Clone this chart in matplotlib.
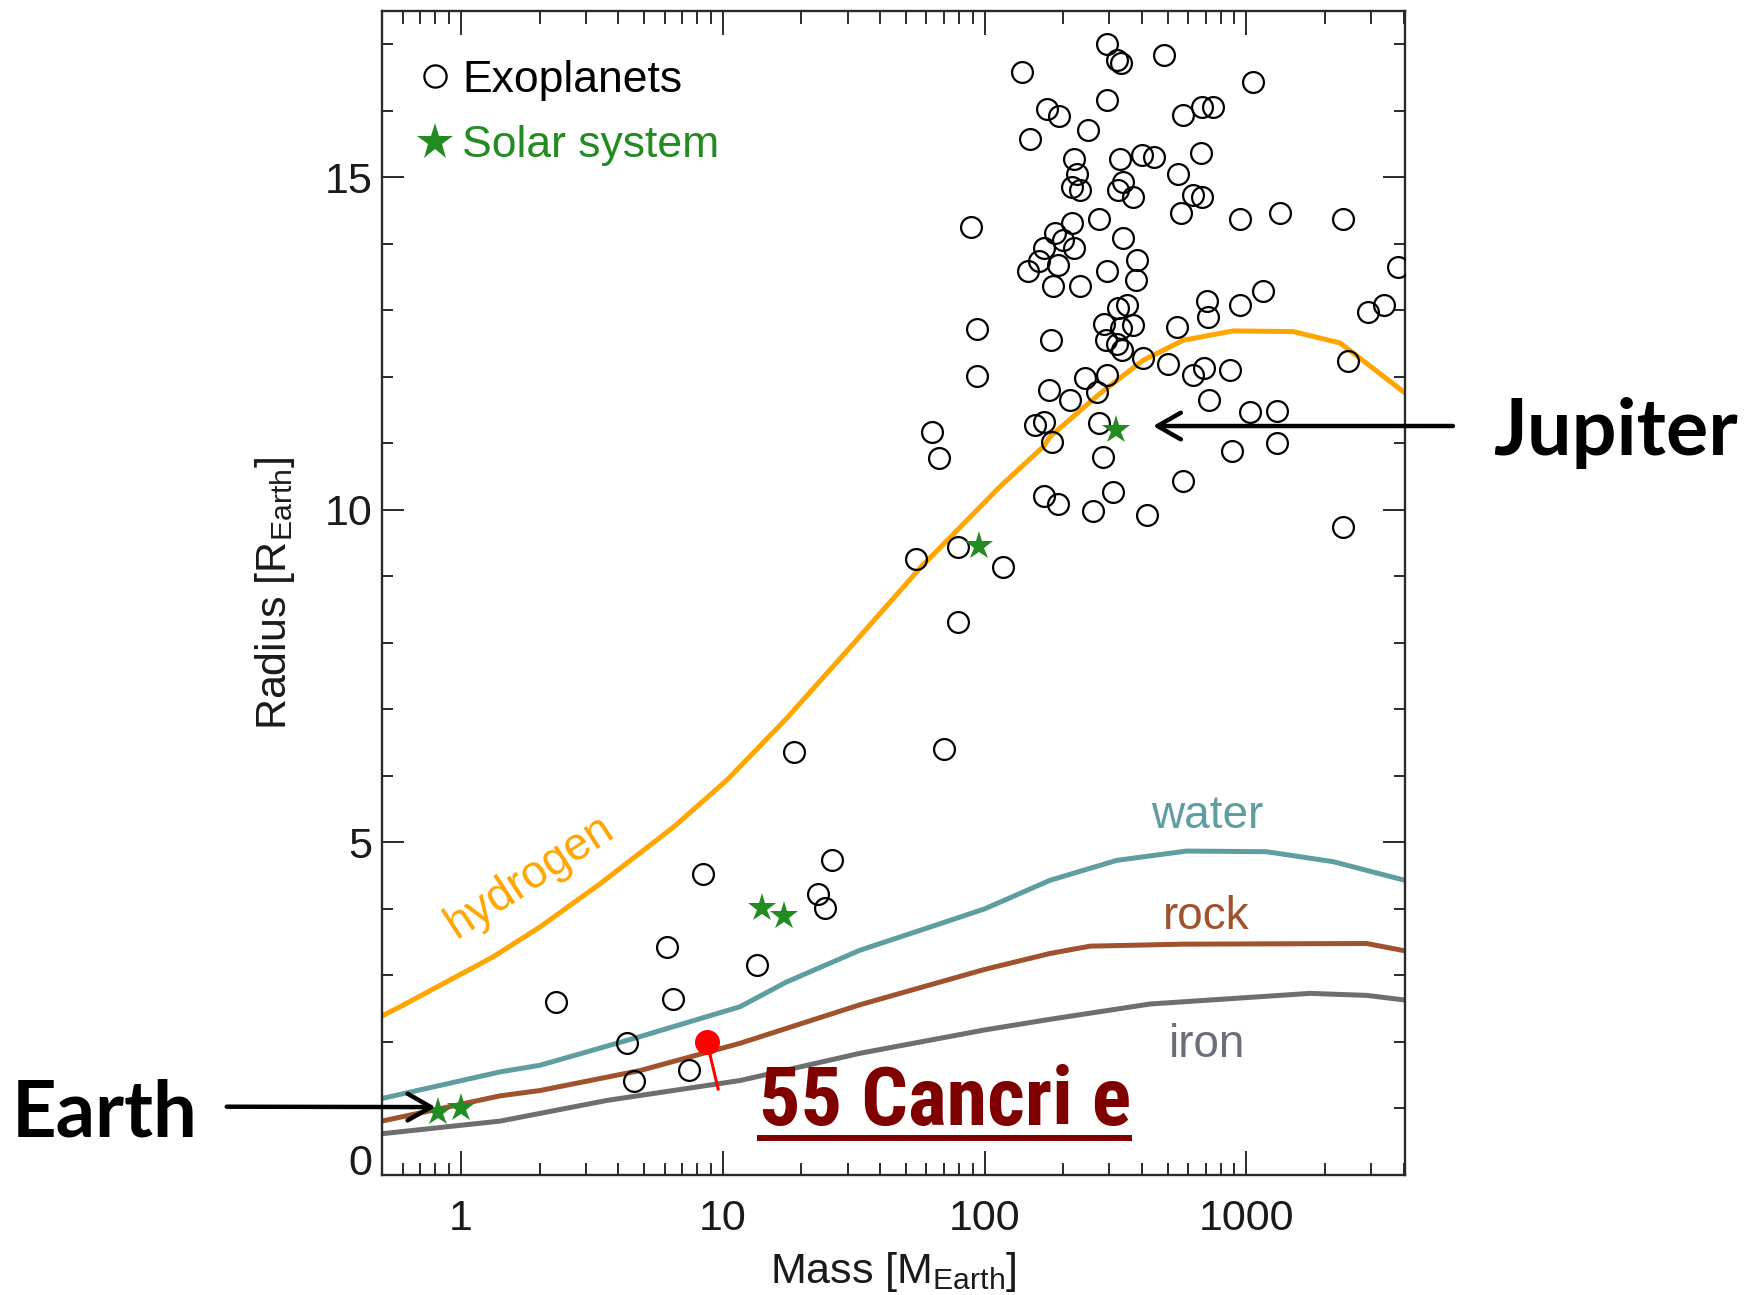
import matplotlib
matplotlib.use("Agg")
import matplotlib.pyplot as plt
from matplotlib import font_manager
from matplotlib.lines import Line2D
from matplotlib.transforms import IdentityTransform
from matplotlib.ticker import LogLocator, MultipleLocator, NullFormatter

# ---------------------------------------------------------------- data
# Known exoplanets: mass [Earth masses], radius [Earth radii]
exo_mass = [139, 294, 321, 331, 486, 1062, 173, 193, 294, 574, 675, 747,
            249, 149, 220, 226, 215, 232, 329, 398, 444, 669, 549, 337,
            324, 370, 626, 675, 562, 945, 1342, 274, 215, 186, 200, 168,
            220, 339, 161, 147, 190, 294, 383, 379, 183, 231, 1156, 705,
            715, 945, 179, 324, 351, 286, 331, 370, 542, 291, 321, 334,
            404, 503, 623, 688, 865, 242, 293, 268, 177, 212, 721, 1031,
            1304, 156, 168, 181, 274, 283, 878, 1304, 571, 169, 191, 309,
            259, 416, 2342, 3796, 2917, 3348, 2446, 2329, 89.1, 93.6, 93.6,
            63.0, 67.0, 54.8, 79.2, 117.7, 79.2, 70.0, 18.75, 8.43, 26.1,
            23.2, 24.6, 6.12, 13.58, 2.31, 6.49, 4.33, 4.59, 7.45]
exo_radius = [16.59, 17.00, 16.77, 16.72, 16.84, 16.44, 16.02, 15.92, 16.16,
              15.94, 16.06, 16.05, 15.71, 15.58, 15.27, 15.05, 14.85, 14.81,
              15.27, 15.33, 15.30, 15.36, 15.05, 14.93, 14.81, 14.70, 14.73,
              14.71, 14.47, 14.37, 14.47, 14.38, 14.31, 14.16, 14.06, 13.93,
              13.93, 14.08, 13.74, 13.59, 13.68, 13.59, 13.75, 13.45, 13.36,
              13.36, 13.29, 13.14, 12.90, 13.08, 12.56, 13.03, 13.08, 12.80,
              12.73, 12.78, 12.75, 12.55, 12.50, 12.40, 12.28, 12.20, 12.03,
              12.13, 12.11, 11.98, 12.03, 11.77, 11.80, 11.65, 11.65, 11.47,
              11.49, 11.27, 11.32, 11.02, 11.31, 10.80, 10.89, 11.01, 10.44,
              10.21, 10.09, 10.27, 9.98, 9.92, 14.38, 13.65, 12.98, 13.08,
              12.24, 9.74, 14.25, 12.72, 12.01, 11.17, 10.78, 9.26, 9.44,
              9.14, 8.31, 6.40, 6.36, 4.52, 4.73, 4.23, 4.01, 3.43, 3.15,
              2.60, 2.65, 1.98, 1.41, 1.58]

# Solar-system planets: Venus, Earth, Uranus, Neptune, Saturn, Jupiter
sol_mass = [0.815, 1.0, 14.1, 17.2, 95.2, 318]
sol_radius = [0.95, 1.0, 4.02, 3.90, 9.45, 11.2]

# Mass-radius relations for pure compositions
hyd_mass = [0.5, 0.587, 1.33, 2.01, 3.41, 6.49, 10.4, 17.5, 31.6, 57.2,
            100.5, 114.6, 168.7, 177.8, 276, 404, 574, 890, 1509, 2275, 4027]
hyd_radius = [2.39, 2.53, 3.28, 3.73, 4.38, 5.23, 5.94, 6.86, 7.99, 9.14,
              10.12, 10.35, 10.96, 11.10, 11.75, 12.25, 12.55, 12.69, 12.68,
              12.51, 11.76]

wat_mass = [0.5, 1.415, 2.01, 4.84, 11.66, 17.5, 33.5, 57, 100, 177.8,
            319.6, 591, 1194, 2145, 4027]
wat_radius = [1.15, 1.55, 1.65, 2.08, 2.53, 2.90, 3.38, 3.68, 4.00, 4.43,
              4.73, 4.87, 4.86, 4.71, 4.43]

rock_mass = [0.5, 1.415, 2.01, 4.84, 11.66, 33.5, 100, 177.8, 252.7, 574,
             2876, 4027]
rock_radius = [0.81, 1.19, 1.27, 1.57, 1.98, 2.56, 3.09, 3.33, 3.44, 3.47,
               3.48, 3.37]

iron_mass = [0.5, 1.415, 3.61, 11.66, 33.5, 100, 177.8, 428, 1747, 2876,
             4027]
iron_radius = [0.62, 0.81, 1.12, 1.42, 1.83, 2.18, 2.34, 2.57, 2.73, 2.70,
               2.63]

# 55 Cancri e: measured point and the lower end of its pin
cnc_mass = [8.71, 9.64]
cnc_radius = [2.00, 1.27]

x_ticks = [1, 10, 100, 1000]
x_ticklabels = ["1", "10", "100", "1000"]
y_ticks = [0, 5, 10, 15]

# ---------------------------------------------------------------- style
plt.rcParams["font.family"] = ["Liberation Sans", "DejaVu Sans"]
plt.rcParams["mathtext.default"] = "regular"

installed = {f.name for f in font_manager.fontManager.ttflist}


def condensed_bold_font():
    for name in ["Liberation Sans Narrow", "Arial Narrow", "Roboto Condensed",
                 "Open Sans Condensed", "DejaVu Sans Condensed"]:
        if name in installed:
            return name, "normal"
    for f in font_manager.fontManager.ttflist:
        if (str(f.stretch) in ("condensed", "semi-condensed", "extra-condensed")
                and str(f.weight) in ("700", "bold")):
            return f.name, f.stretch
    return "Liberation Sans", "normal"


narrow_family, narrow_stretch = condensed_bold_font()
callout_family = "Lato" if "Lato" in installed else "Liberation Sans"

GREEN = "#228B22"
ORANGE = "#FFA500"
TEAL = "#5F9EA0"
BROWN = "#A0522D"
GRAY = "#6E6E6E"
DARKRED = "#800000"

W, H, DPI = 1761, 1295, 100
fig = plt.figure(figsize=(W / DPI, H / DPI), dpi=DPI)
ax = fig.add_axes([0.2169, 0.0927, 0.5809, 0.8988])

ax.set_xscale("log")
ax.set_xlim(0.5, 4030)
ax.set_ylim(0, 17.5)

# composition curves
ax.plot(hyd_mass, hyd_radius, color=ORANGE, lw=3.6, zorder=2)
ax.plot(wat_mass, wat_radius, color=TEAL, lw=3.6, zorder=2)
ax.plot(rock_mass, rock_radius, color=BROWN, lw=3.6, zorder=2)
ax.plot(iron_mass, iron_radius, color=GRAY, lw=3.6, zorder=2)

# planets
ax.plot(exo_mass, exo_radius, ls="none", marker="o", ms=15, mfc="none",
        mec="black", mew=1.6, zorder=3)
ax.plot(sol_mass, sol_radius, ls="none", marker="*", ms=21, color=GREEN,
        mew=0, zorder=4)

# 55 Cancri e pin
ax.plot(cnc_mass, cnc_radius, color="red", lw=2.2, zorder=5,
        solid_capstyle="butt")
ax.plot(cnc_mass[:1], cnc_radius[:1], ls="none", marker="o", ms=18,
        color="red", mew=0, zorder=6)

# curve labels
ax.text(1.94, 4.33, "hydrogen", color=ORANGE, fontsize=33, rotation=33,
        rotation_mode="anchor", ha="center", va="baseline")
ax.text(710, 5.21, "water", color=TEAL, fontsize=33, ha="center",
        va="baseline")
ax.text(705, 3.705, "rock", color=BROWN, fontsize=33, ha="center",
        va="baseline")
ax.text(705, 1.775, "iron", color="#6A6E78", fontsize=33, ha="center",
        va="baseline")

# axes styling
for s in ax.spines.values():
    s.set_linewidth(1.7)
    s.set_color("#2a2a2a")

ax.set_xticks(x_ticks)
ax.set_xticklabels(x_ticklabels)
ax.xaxis.set_minor_locator(LogLocator(base=10, subs=range(2, 10), numticks=20))
ax.xaxis.set_minor_formatter(NullFormatter())
ax.set_yticks(y_ticks)
ax.yaxis.set_minor_locator(MultipleLocator(1))

ax.tick_params(which="both", direction="in", top=True, right=True,
               color="#2a2a2a", width=1.4, labelsize=31, labelcolor="#1a1a1a")
ax.tick_params(axis="x", which="major", length=17, pad=17)
ax.tick_params(axis="x", which="minor", length=9)
ax.tick_params(axis="y", which="major", length=16, pad=7)
ax.tick_params(axis="y", which="minor", length=8)

ax.set_xlabel("Mass [M$_\\mathregular{Earth}$]", fontsize=31, labelpad=8,
              color="#1a1a1a")
ax.set_ylabel("Radius [R$_\\mathregular{Earth}$]", fontsize=31, labelpad=20,
              color="#1a1a1a")

# legend
h_exo = Line2D([], [], ls="none", marker="o", ms=16, mfc="none", mec="black",
               mew=1.6)
h_sol = Line2D([], [], ls="none", marker="*", ms=28, color=GREEN, mew=0)
ax.legend([h_exo, h_sol], ["Exoplanets", "Solar system"], loc="upper left",
          bbox_to_anchor=(0, 1 - 9 / 1164), frameon=False, fontsize=32,
          handlelength=0.6, handletextpad=0.3, borderpad=0,
          borderaxespad=0.9, labelspacing=0.55,
          labelcolor=["black", GREEN])

# call-outs
arrow = dict(arrowstyle="->,head_length=0.42,head_width=0.24", lw=3.2,
             color="black", shrinkA=0, shrinkB=0, mutation_scale=40)
ax.annotate("", xy=(0.8, 1.02), xycoords="data",
            xytext=(226.7 / W, 1 - 1106.7 / H), textcoords="figure fraction",
            arrowprops=arrow, annotation_clip=False, zorder=7)
ax.annotate("", xy=(440, 11.26), xycoords="data",
            xytext=(1453 / W, 1 - 426 / H), textcoords="figure fraction",
            arrowprops=arrow, annotation_clip=False, zorder=7)

fig.text(11.7 / W, 1 - 1136.7 / H, "Earth", fontsize=56, fontweight="bold",
         family=[callout_family, "DejaVu Sans"], ha="left", va="baseline")
fig.text(1493 / W, 1 - 455 / H, "Jupiter", fontsize=57, fontweight="bold",
         family=[callout_family, "DejaVu Sans"], ha="left", va="baseline")

cnc = fig.text(759 / W, 1 - 1125 / H, "55 Cancri e", fontsize=62,
               fontweight="bold", family=[narrow_family, "DejaVu Sans"],
               fontstretch=narrow_stretch, color=DARKRED, ha="left",
               va="baseline", zorder=8)

# keep the label at its printed width, then underline it
fig.canvas.draw()
renderer = fig.canvas.get_renderer()
bb = cnc.get_window_extent(renderer)
if bb.width > 372:
    cnc.set_fontsize(62 * 372 / bb.width)
    fig.canvas.draw()
    bb = cnc.get_window_extent(renderer)
base_y = fig.transFigure.transform((0, 1 - 1125 / H))[1]
fig.add_artist(Line2D([bb.x0 - 2, bb.x1 + 1], [base_y - 13, base_y - 13],
                      transform=IdentityTransform(), color=DARKRED, lw=4.3,
                      solid_capstyle="butt", zorder=8))

# the zero label sits on its tick rather than centred on it
ax.get_yticklabels()[0].set_verticalalignment("baseline")

fig.savefig("out.png", dpi=DPI)
